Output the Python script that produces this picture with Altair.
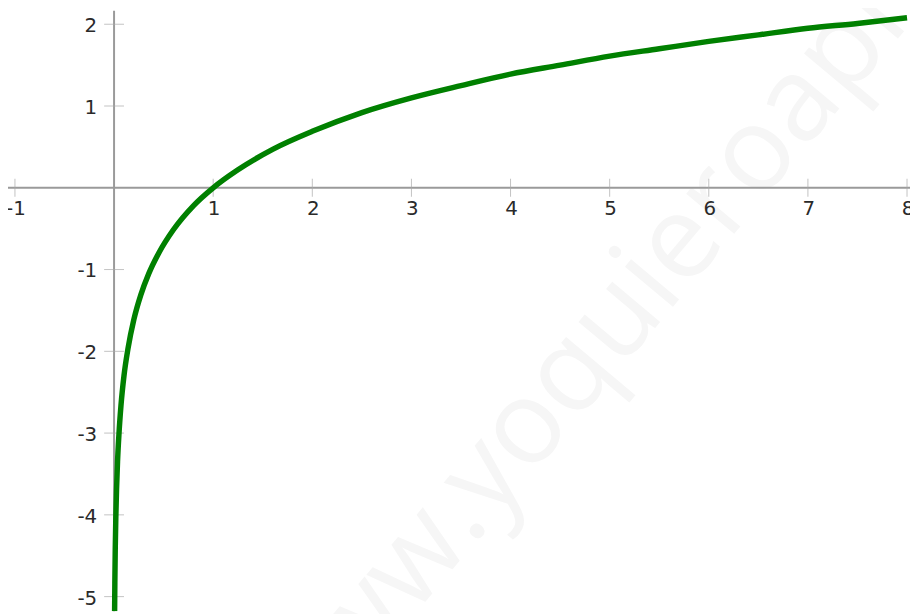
import altair as alt
import pandas as pd

# curve points (x, y)
curve_x = [0.0056, 0.008, 0.012, 0.018, 0.025, 0.035, 0.05, 0.07, 0.1, 0.14, 0.2,
           0.27, 0.35, 0.45, 0.6, 0.8, 1.0, 1.25, 1.6, 2.0, 2.5, 3.0, 3.5, 4.0,
           4.5, 5.0, 5.5, 6.0, 6.5, 7.0, 7.5, 8.0]
curve_y = [-5.18, -4.83, -4.42, -4.02, -3.69, -3.35, -3.0, -2.66, -2.3, -1.97, -1.61,
           -1.31, -1.05, -0.8, -0.51, -0.22, 0.0, 0.22, 0.47, 0.69, 0.92, 1.1, 1.25, 1.39,
           1.5, 1.61, 1.7, 1.79, 1.87, 1.95, 2.01, 2.08]

x_ticks = [-1, 1, 2, 3, 4, 5, 6, 7, 8]
x_tick_labels = ["-1", "1", "2", "3", "4", "5", "6", "7", "8"]
y_ticks = [-5, -4, -3, -2, -1, 1, 2]
y_tick_labels = ["-5", "-4", "-3", "-2", "-1", "1", "2"]
watermark = ["www.yoquieroaprobar.es"]

curve_df = pd.DataFrame({"x": curve_x, "y": curve_y})
xt_df = pd.DataFrame({"v": x_ticks, "label": x_tick_labels})
yt_df = pd.DataFrame({"v": y_ticks, "label": y_tick_labels})
wm_df = pd.DataFrame({"t": watermark})

xs = alt.Scale(domain=[-1.07, 8.03], nice=False, zero=False)
ys = alt.Scale(domain=[-5.18, 2.166], nice=False, zero=False)
noax = None

wm = alt.Chart(wm_df).mark_text(
    angle=310, fontSize=118, font="Open Sans", color="#f6f6f6",
    align="center", baseline="middle"
).encode(
    x=alt.datum(6.05, scale=xs, axis=noax),
    y=alt.datum(-0.2, scale=ys, axis=noax),
    text="t:N",
)

xaxis = alt.Chart(wm_df).mark_rule(color="#9a9a9a", strokeWidth=2).encode(
    y=alt.datum(0, scale=ys, axis=noax)
)
yaxis = alt.Chart(wm_df).mark_rule(color="#9a9a9a", strokeWidth=2).encode(
    x=alt.datum(0, scale=xs, axis=noax)
)

xtick = alt.Chart(xt_df).mark_tick(
    orient="vertical", size=18, thickness=1, color="#a8a8a8"
).encode(
    x=alt.X("v:Q", scale=xs, axis=noax),
    y=alt.datum(0, scale=ys, axis=noax),
)
ytick = alt.Chart(yt_df).mark_tick(
    orient="horizontal", size=20, thickness=1, color="#a8a8a8"
).encode(
    y=alt.Y("v:Q", scale=ys, axis=noax),
    x=alt.datum(0, scale=xs, axis=noax),
)

xlab = alt.Chart(xt_df).mark_text(
    font="DejaVu Sans", fontSize=20, color="#2a2a2a",
    align="center", baseline="middle", dy=21, dx=1
).encode(
    x=alt.X("v:Q", scale=xs, axis=noax),
    y=alt.datum(0, scale=ys, axis=noax),
    text="label:N",
)
ylab = alt.Chart(yt_df).mark_text(
    font="DejaVu Sans", fontSize=20, color="#2a2a2a",
    align="right", baseline="middle", dx=-17, dy=2
).encode(
    y=alt.Y("v:Q", scale=ys, axis=noax),
    x=alt.datum(0, scale=xs, axis=noax),
    text="label:N",
)

curve = alt.Chart(curve_df).mark_line(
    color="#008000", strokeWidth=5.5, interpolate="monotone", clip=True
).encode(
    x=alt.X("x:Q", scale=xs, axis=noax),
    y=alt.Y("y:Q", scale=ys, axis=noax),
)

chart = alt.layer(wm, xaxis, yaxis, xtick, ytick, xlab, ylab, curve).properties(
    width=910, height=606,
    autosize=alt.AutoSizeParams(type="none"),
    padding=0,
).configure_view(stroke=None)

chart.save("out.html", embed_options={"renderer": "svg", "actions": False})
